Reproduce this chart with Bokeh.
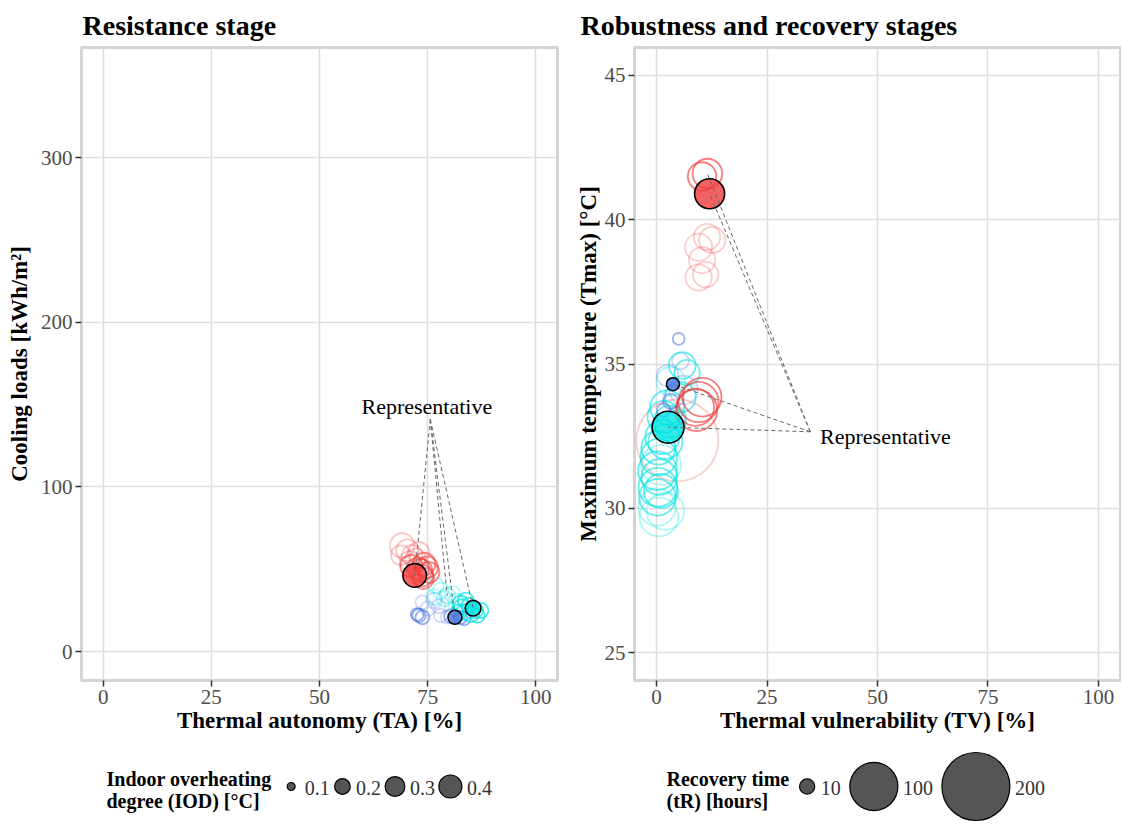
import numpy as np
from bokeh.plotting import figure
from bokeh.models import Range1d, FixedTicker
from bokeh.layouts import column, row
from bokeh.embed import file_html
from bokeh.resources import INLINE
from bokeh.core.properties import value

FONT = "Liberation Serif"
RED = "#F03B3B"
BLUE = "#4A74E4"
CYAN = "#00E3E3"

# ---------------- Left panel data: Thermal autonomy (TA) vs cooling loads, size = IOD
ta_red = [74.2, 74.9, 73.4, 73.8, 72.8, 75.3, 71.2, 74.0]
cl_red = [53.2, 51.2, 49.2, 46.1, 50.5, 48.0, 52.0, 44.5]
iod_red = [0.38, 0.35, 0.40, 0.35, 0.36, 0.33, 0.37, 0.34]
ta_red_faint = [69.1, 70.3, 71.4, 72.2, 70.8, 72.9, 68.8]
cl_red_faint = [64.4, 61.3, 58.3, 56.3, 55.0, 60.0, 58.5]
iod_red_faint = [0.45, 0.38, 0.33, 0.32, 0.30, 0.35, 0.30]

ta_cyan = [82.6, 83.8, 83.4, 86.5, 87.3, 82.2, 85.0, 82.9, 84.5, 86.0]
cl_cyan = [29.0, 31.0, 23.9, 21.9, 24.9, 23.9, 22.9, 26.9, 28.0, 25.0]
iod_cyan = [0.22, 0.20, 0.21, 0.18, 0.19, 0.20, 0.22, 0.21, 0.19, 0.20]
ta_cyan_faint = [76.9, 78.0, 79.5, 78.8, 76.5, 80.7, 81.5]
cl_cyan_faint = [40.1, 37.0, 34.0, 32.0, 33.0, 35.0, 30.5]
iod_cyan_faint = [0.20, 0.21, 0.20, 0.19, 0.20, 0.21, 0.20]

ta_blue = [73.0, 73.8, 72.6, 82.6, 83.4, 80.4]
cl_blue = [21.9, 20.8, 22.5, 20.8, 19.8, 21.5]
iod_blue = [0.16, 0.17, 0.15, 0.16, 0.15, 0.17]
ta_blue_faint = [73.8, 76.5, 78.0, 79.5, 75.0, 77.5]
cl_blue_faint = [29.9, 31.0, 21.9, 20.8, 26.0, 27.5]
iod_blue_faint = [0.17, 0.20, 0.16, 0.15, 0.18, 0.17]

# representatives (red, blue, cyan highlighted; 4th is a faint-cyan case)
rep_ta = [72.0, 81.3, 85.5, 79.5]
rep_cl = [46.2, 20.8, 26.3, 34.0]
rep_iod = [0.42, 0.17, 0.20, 0.20]

# ---------------- Right panel data: Thermal vulnerability (TV) vs Tmax, size = tR
tv_red = [9.5, 10.3, 8.8, 10.3, 11.5, 9.0]
tmax_red = [33.68, 33.85, 33.5, 41.5, 41.6, 33.4]
tr_red = [70, 65, 60, 35, 38, 75]
tv_red_faint = [11.4, 9.5, 10.3, 9.5, 11.1, 12.6, 4.7]
tmax_red_faint = [39.4, 39.05, 38.6, 38.0, 38.1, 39.3, 32.35]
tr_red_faint = [30, 32, 30, 30, 28, 30, 290]

tv_cyan = [5.8, 6.9, 5.4, 2.4, 1.6, 1.3, 0.4, 0.5, 0.2, 0.6, 0.3, 0.2, 1.0, 3.0, 2.0]
tmax_cyan = [34.95, 34.7, 33.85, 33.5, 33.16, 32.47, 32.1, 31.77, 31.3, 31.08, 30.73, 30.38, 30.6, 33.0, 32.3]
tr_cyan = [31, 28, 40, 50, 45, 50, 50, 58, 65, 55, 65, 58, 50, 45, 50]
tv_cyan_faint = [0.5, 0.1, 3.2, 1.0, 2.0]
tmax_cyan_faint = [29.7, 30.04, 34.4, 31.5, 29.9]
tr_cyan_faint = [65, 60, 36, 70, 60]

tv_blue = [5.0, 3.2, 1.6]
tmax_blue = [35.87, 33.7, 33.4]
tr_blue = [6, 10, 8]
tv_blue_faint = [5.4, 3.9, 6.1, 2.5, 4.5]
tmax_blue_faint = [35.1, 33.85, 34.1, 34.6, 33.2]
tr_blue_faint = [12, 18, 35, 20, 15]

rep_tv = [12.0, 3.7, 2.6, 11.5]
rep_tmax = [40.9, 34.3, 32.81, 41.6]
rep_tr = [39, 7.3, 44, 38]

# legends
iod_legend = [0.1, 0.2, 0.3, 0.4]
tr_legend = [10, 100, 200]

x_ticks = [0, 25, 50, 75, 100]
cl_ticks = [0, 100, 200, 300]
tmax_ticks = [25, 30, 35, 40, 45]


def iod_size(v):
    v = np.asarray(v, dtype=float)
    return 4.7 + 18.9 * np.sqrt(np.clip((v - 0.09) / 0.33, 0, None))


def tr_size(v):
    return 68 * np.sqrt(np.asarray(v, dtype=float) / 200.0)


PANEL_H = 745
LEG_H = 79
W1, W2 = 566, 555


def make_panel(title, xlabel, ylabel, yr, yticks, width, mbl, mbr, title_offset, ylab_standoff):
    p = figure(width=width, height=PANEL_H, x_range=Range1d(-5, 105), y_range=Range1d(*yr),
               output_backend="svg", toolbar_location=None, title=title,
               min_border_left=mbl, min_border_right=mbr, min_border_top=47, min_border_bottom=65)
    p.title.text_font = FONT
    p.title.text_font_size = "28px"
    p.title.text_font_style = "bold"
    p.title.text_color = "black"
    p.title.standoff = 14
    p.title.offset = title_offset
    p.outline_line_color = "#D4D4D4"
    p.outline_line_width = 3
    p.background_fill_color = "white"
    p.border_fill_color = "white"
    p.xaxis.ticker = FixedTicker(ticks=x_ticks)
    p.yaxis.ticker = FixedTicker(ticks=yticks)
    p.xaxis.axis_label = xlabel
    p.yaxis.axis_label = ylabel
    for ax in [p.xaxis[0], p.yaxis[0]]:
        ax.axis_line_color = None
        ax.major_tick_line_color = "#333333"
        ax.major_tick_line_width = 1.5
        ax.major_tick_out = 6
        ax.major_tick_in = 0
        ax.minor_tick_line_color = None
        ax.major_label_text_font = FONT
        ax.major_label_text_font_size = "21px"
        ax.major_label_text_color = "#4D4D4D"
        ax.major_label_standoff = 3
        ax.axis_label_text_font = FONT
        ax.axis_label_text_font_size = "23px"
        ax.axis_label_text_font_style = "bold"
        ax.axis_label_text_color = "black"
        ax.axis_label_standoff = 1
    p.yaxis.axis_label_standoff = ylab_standoff
    p.grid.grid_line_color = "#DEDEDE"
    p.grid.grid_line_width = 1.5
    return p


def rings(p, x, y, s, color, alpha):
    p.scatter(x=x, y=y, size=s, fill_color=None, line_color=color, line_alpha=alpha, line_width=1.8)


rep_colors = [RED, BLUE, CYAN]

# ---------------- left panel
p1 = make_panel("Resistance stage", "Thermal autonomy (TA) [%]", "Cooling loads [kWh/m\u00b2]",
                (-17.6, 366.8), cl_ticks, W1, 81, 9, 1, 6)
rings(p1, ta_blue_faint, cl_blue_faint, iod_size(iod_blue_faint), BLUE, 0.25)
rings(p1, ta_cyan_faint, cl_cyan_faint, iod_size(iod_cyan_faint), CYAN, 0.3)
rings(p1, ta_red_faint, cl_red_faint, iod_size(iod_red_faint), RED, 0.28)
rings(p1, ta_blue, cl_blue, iod_size(iod_blue), BLUE, 0.6)
rings(p1, ta_cyan, cl_cyan, iod_size(iod_cyan), CYAN, 0.7)
rings(p1, ta_red, cl_red, iod_size(iod_red), RED, 0.6)
p1.scatter(x=rep_ta[:3], y=rep_cl[:3], size=iod_size(rep_iod[:3]), fill_color=rep_colors,
           fill_alpha=0.8, line_color="black", line_width=1.6)
p1.segment(x0=[75.6] * 4, y0=[141.0] * 4, x1=rep_ta, y1=rep_cl, line_color="#666666",
           line_dash="4 3", line_width=1)
p1.text(x=[74.8], y=[148.8], text=["Representative"], text_font=value(FONT),
        text_font_size="22px", text_align="center", text_baseline="middle", text_color="black")

# ---------------- right panel
p2 = make_panel("Robustness and recovery stages", "Thermal vulnerability (TV) [%]",
                "Maximum temperature (Tmax) [\u00b0C]", (24.03, 45.97), tmax_ticks, W2, 68, 1, -54, 1)
rings(p2, tv_red_faint, tmax_red_faint, tr_size(tr_red_faint), RED, 0.25)
rings(p2, tv_blue_faint, tmax_blue_faint, tr_size(tr_blue_faint), BLUE, 0.28)
rings(p2, tv_cyan_faint, tmax_cyan_faint, tr_size(tr_cyan_faint), CYAN, 0.3)
rings(p2, tv_cyan, tmax_cyan, tr_size(tr_cyan), CYAN, 0.6)
rings(p2, tv_blue, tmax_blue, tr_size(tr_blue), BLUE, 0.55)
rings(p2, tv_red, tmax_red, tr_size(tr_red), RED, 0.65)
p2.scatter(x=rep_tv[:3], y=rep_tmax[:3], size=tr_size(rep_tr[:3]), fill_color=rep_colors,
           fill_alpha=0.8, line_color="black", line_width=1.6)
p2.segment(x0=[34.8] * 4, y0=[32.65] * 4, x1=rep_tv, y1=rep_tmax, line_color="#666666",
           line_dash="4 3", line_width=1)
p2.text(x=[37.0], y=[32.49], text=["Representative"], text_font=value(FONT),
        text_font_size="22px", text_align="left", text_baseline="middle", text_color="black")


# ---------------- legends
def text_w(s, fs):
    w = 0.0
    for ch in s:
        w += 0.25 if ch == "." else 0.5
    return w * fs


def make_legend(width, title_lines, title_x, x0, sizes, labels, gap):
    lg = figure(width=width, height=LEG_H, x_range=Range1d(0, width), y_range=Range1d(LEG_H, 0),
                output_backend="svg", toolbar_location=None, x_axis_type=None, y_axis_type=None,
                min_border=0)
    lg.outline_line_color = None
    lg.background_fill_color = "white"
    lg.border_fill_color = "white"
    lg.text(x=[title_x] * 2, y=[33, 55], text=title_lines, text_font=value(FONT),
            text_font_size="20px", text_font_style="bold", text_baseline="middle",
            text_align="left", text_color="black")
    cx, lx = [], []
    x = x0
    for s, lab in zip(sizes, labels):
        kw = max(17.3, float(s))
        cx.append(x + kw / 2)
        lx.append(x + kw + 5)
        x = x + kw + 5 + text_w(lab, 20) + gap
    lg.scatter(x=cx, y=[41] * len(cx), size=sizes, fill_color="#555555", line_color="black",
               line_width=1.2)
    lg.text(x=lx, y=[42] * len(lx), text=labels, text_font=value(FONT), text_font_size="20px",
            text_baseline="middle", text_align="left", text_color="#333333")
    return lg


l1 = make_legend(W1, ["Indoor overheating", "degree (IOD) [\u00b0C]"], 106, 282,
                 list(iod_size(iod_legend)), [f"{v:.1f}" for v in iod_legend], 4)
l2 = make_legend(W2, ["Recovery time", "(tR) [hours]"], 100, 232,
                 list(tr_size(tr_legend)), [str(v) for v in tr_legend], 9)

layout = column(row(p1, p2), row(l1, l2))
open("out.html", "w").write(file_html(layout, INLINE))
